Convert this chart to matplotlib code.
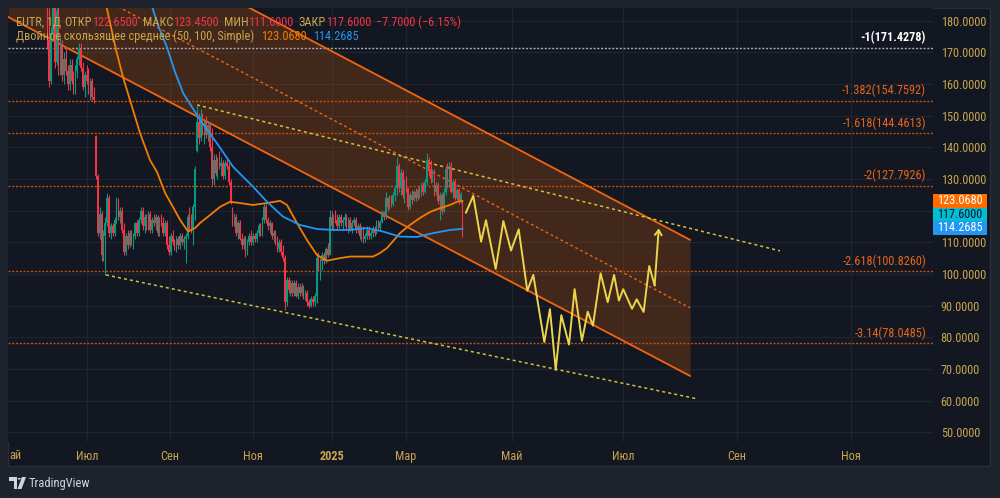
import numpy as np
import matplotlib

matplotlib.use("Agg")
import matplotlib.pyplot as plt
from matplotlib import font_manager
from matplotlib.patches import Rectangle, Polygon, Circle

# pick a narrow-ish face if one is installed
_have = {f.name for f in font_manager.fontManager.ttflist}
_face = next((f for f in ["Liberation Sans Narrow", "DejaVu Sans Condensed",
                          "Roboto Condensed", "Roboto", "Liberation Sans"] if f in _have),
             "DejaVu Sans")
plt.rcParams.update({
    "font.family": [_face, "DejaVu Sans"],
    "font.size": 8,
})

# ---- data -------------------------------------------------------------
# daily candles; x = bar index counted from the left edge of the view
bar_start = 21
opens = [189, 174, 161, 176, 186, 167, 183, 165, 172, 163,
         168, 164, 160, 166, 161, 158, 164, 168, 171, 165,
         159, 163, 161, 158, 161, 156, 143.5, 131, 113, 119,
         106, 112, 116, 124, 113, 115, 113, 117, 123, 118,
         120, 114, 107, 112, 109, 113, 110, 112, 116, 113,
         117, 120, 115, 118, 115, 119, 114, 117, 116, 118,
         113, 117, 116, 113, 116, 109, 107, 112, 110, 108,
         111, 109, 112, 110, 111, 112, 118, 115, 114, 121,
         139, 148, 143, 150, 145, 148, 144, 147, 140, 130,
         136, 132, 136, 134, 135, 131, 135, 134, 129, 120,
         116, 118, 113, 116, 111, 109, 111, 107, 110, 112,
         110, 112, 111, 113, 115, 113, 117, 121, 117, 115,
         116, 112, 113, 110, 108, 110, 107, 105, 91, 98,
         95, 97, 94, 97, 93, 96, 94, 96, 93, 94,
         91, 90, 92, 91, 93, 105, 102, 104, 106, 104,
         108, 106, 118, 115, 118, 117, 115, 118, 116, 117,
         118, 115, 117, 114, 116, 117, 114, 115, 112, 114,
         111, 112, 114, 112, 113, 114, 113, 116, 114.5, 116.5,
         119.5, 118, 124, 121, 124, 122, 125, 127, 134, 127,
         132, 125, 129, 127, 121, 125, 123.3, 126, 124, 126.5,
         125, 128, 126, 129, 136, 133, 130, 132, 126, 128,
         123, 125, 120, 126, 133, 128, 134, 126, 129, 124,
         126.5, 123, 122.65]
highs = [196, 184, 178, 190, 188, 185, 185, 175, 174, 170,
         172, 166, 168, 168, 164, 166, 169, 173, 173, 167,
         164, 166, 165, 162, 162, 159, 143.8, 131.5, 121, 120,
         114, 118, 125.7, 125, 116, 116, 118, 124.4, 124, 121,
         121, 116, 113, 114, 114, 114, 113, 116.5, 117, 118,
         121.2, 121, 119, 119, 120, 120, 118, 119, 119, 118.5,
         118, 119, 118, 117, 117, 112, 113, 114, 111, 112,
         112, 113, 113, 112, 113, 119, 121, 119, 122, 134,
         153.4, 151, 152, 151, 149, 150, 148, 148, 146, 138,
         138, 137, 139, 137, 136, 136, 137, 135, 130, 121,
         119.3, 119, 117, 117, 113, 112, 112, 111, 113, 114,
         113, 113, 114, 116, 116, 118, 122.5, 122, 118, 117,
         116.5, 114, 114, 112, 111, 111, 109.2, 106, 99, 99.1,
         98, 98, 98, 98, 97, 97, 97, 96.5, 95, 95,
         92, 93, 93, 94, 106.6, 107, 105, 107, 107, 108.6,
         109.8, 120.2, 120, 119, 120.2, 119, 119, 119, 118, 119.3,
         119, 118, 118, 117, 118, 118, 116, 116, 115, 115,
         113, 115, 115, 114, 115, 115, 117, 117, 117, 120.2,
         120, 126, 124.4, 125, 125, 126, 128, 137, 135, 133,
         132.8, 130, 131, 127.6, 126, 126.5, 126.5, 127, 127, 128,
         129, 129, 130, 138.2, 137, 136, 133, 133, 129, 129,
         126, 125.6, 127, 133.9, 135, 135.5, 135.5, 130, 130, 127,
         127, 126, 123.45]
lows = [171, 159, 160, 174, 165, 166, 163, 163, 161, 160,
        163, 158, 158, 160, 157, 157, 162, 166, 164, 158,
        156, 160, 157, 155, 155, 154, 130, 112, 111, 104,
        104, 99.7, 115, 111.8, 111, 112, 112, 116, 117, 116,
        113, 106, 106, 108, 108.6, 109, 108, 111, 112, 112,
        116, 114, 113, 114, 114, 113, 113, 115, 114, 112,
        112, 115, 112, 112, 108, 106, 106, 109, 107.6, 107,
        108, 108, 109, 108, 103.4, 111, 114, 113, 109, 117,
        138.5, 141, 142, 144, 141, 143, 142, 139, 128, 128,
        131, 130, 133, 131, 130, 130, 133, 128, 122, 115,
        115, 112, 111, 110.7, 108, 108, 105.5, 106, 109, 109,
        109, 110, 110, 112, 112, 112, 116, 116, 114, 113,
        111, 110, 109, 107, 107, 106, 104, 88.6, 90, 94,
        93, 93, 93, 92.8, 92, 93, 93, 92, 91.8, 90,
        89.2, 89.5, 90, 90, 90.8, 101, 98.1, 101.3, 103, 103.5,
        105.5, 106, 113.9, 114, 116, 114, 114.5, 115, 114, 115,
        114, 113, 113.5, 113, 115, 113, 113, 111, 110.5, 109.8,
        110, 111, 111, 111, 111.8, 112, 112.5, 113.9, 114, 116,
        117, 117.5, 120, 120.5, 121.2, 121.5, 123, 125, 126, 125,
        124, 122.4, 126, 120.2, 120.5, 122, 123, 123, 123.3, 124,
        124.5, 125, 125.5, 128, 131, 128.7, 129, 124.7, 125, 122,
        117, 119, 119.5, 125, 127, 127.5, 125.5, 124, 123.3, 123.3,
        122, 122.5, 111.6]
closes = [174, 161, 176, 186, 167, 183, 165, 172, 163, 168,
          164, 160, 166, 161, 158, 164, 168, 171, 165, 159,
          163, 161, 158, 161, 156, 155, 131, 113, 119, 106,
          112, 116, 124, 113, 115, 113, 117, 123, 118, 120,
          114, 107, 112, 109, 113, 110, 112, 116, 113, 117,
          120, 115, 118, 115, 119, 114, 117, 116, 118, 113,
          117, 116, 113, 116, 109, 107, 112, 110, 108, 111,
          109, 112, 110, 111, 112, 118, 115, 114, 121, 133,
          148, 143, 150, 145, 148, 144, 147, 140, 130, 136,
          132, 136, 134, 135, 131, 135, 134, 129, 123, 116,
          118, 113, 116, 111, 109, 111, 107, 110, 112, 110,
          112, 111, 113, 115, 113, 117, 121, 117, 115, 116,
          112, 113, 110, 108, 110, 107, 105, 91, 98, 95,
          97, 94, 97, 93, 96, 94, 96, 93, 94, 91,
          90, 92, 91, 93, 105, 102, 104, 106, 104, 108,
          106, 118, 115, 118, 117, 115, 118, 116, 117, 118,
          115, 117, 114, 116, 117, 114, 115, 112, 114, 111,
          112, 114, 112, 113, 114, 113, 116, 114.5, 116.5, 119.5,
          118, 124, 121, 124, 122, 125, 127, 134, 127, 132,
          125, 129, 127, 121, 125, 123.3, 126, 124, 126.5, 125,
          128, 126, 129, 136, 133, 130, 132, 126, 128, 123,
          125, 120, 126, 133, 128, 134, 126, 129, 124, 126.5,
          123, 125.3, 117.6]

# simple moving averages 50 / 100 (sampled along the curve)
ma50_x = [51.9, 57.8, 61.5, 65.2, 70.6, 75.9, 79.7, 84.0, 88.2, 92.0,
          96.3, 100.0, 102.7, 108.0, 113.4, 118.7, 124.1, 131.0, 138.5, 145.5,
          149.2, 154.5, 159.9, 165.2, 170.6, 177.5, 182.9, 189.3, 195.2, 198.9,
          202.7, 209.6, 215.0, 220.3, 225.7, 231.0, 236.4, 240.1, 243.0]
ma50_y = [186.5, 170.7, 162.2, 155.0, 144.5, 136.0, 132.2, 125.6, 121.2, 117.1,
          113.4, 114.5, 116.1, 118.6, 121.2, 122.8, 122.4, 121.8, 122.4, 123.1,
          121.8, 116.1, 110.7, 106.0, 104.2, 105.0, 105.5, 105.5, 105.5, 106.6,
          108.2, 112.9, 115.5, 117.7, 119.6, 120.8, 121.8, 122.8, 123.068]
ma100_x = [75.9, 80.2, 84.9, 89.3, 93.7, 102.7, 111.6, 120.3, 131.0, 138.5,
           147.1, 156.1, 165.2, 173.8, 182.9, 192.0, 200.5, 209.6, 218.7, 227.3,
           236.4, 243.0]
ma100_y = [186.5, 178.6, 171.8, 163.8, 157.1, 148.7, 141.4, 133.9, 127.6, 122.8,
           118.1, 115.5, 114.2, 113.9, 113.9, 114.5, 113.4, 111.8, 111.7, 112.9,
           113.9, 114.2685]

# parallel channel (lower / upper edge at its two ends)
chan_x = [0, 364.7]
chan_lo = [181.2, 67.8]
chan_hi = [224.2, 110.8]

# yellow dotted trend lines
trend_hi_x = [101.1, 412.8]
trend_hi_y = [153.4, 107.3]
trend_lo_x = [52.4, 369.0]
trend_lo_y = [99.7, 60.5]

# projected path
proj_x = [244.9, 248.8, 253.0, 255.6, 260.8, 264.9, 269.0, 273.1, 277.7, 280.9,
          286.8, 289.8, 292.9, 295.9, 300.0, 303.0, 306.9, 310.0, 312.8, 316.9,
          320.7, 324.1, 326.7, 329.0, 333.7, 336.2, 339.9, 342.9, 345.8, 348.0]
proj_y = [119.4, 124.7, 110.2, 117.0, 101.6, 116.7, 107.4, 114.1, 94.7, 99.7,
          78.5, 88.9, 69.7, 87.0, 77.7, 95.2, 78.9, 88.1, 83.7, 100.2,
          91.1, 99.7, 91.6, 95.2, 89.0, 92.0, 88.0, 102.5, 96.4, 114.4]

# fibonacci extension levels
fib_ratio = ["-1", "-1.382", "-1.618", "-2", "-2.618", "-3.14"]
fib_value = [171.4278, 154.7592, 144.4613, 127.7926, 100.8260, 78.0485]

month_pos = [42.2, 86.6, 131.0, 173.3, 212.8, 269.5, 328.9, 389.8, 450.8]
month_lbl = ["Июл", "Сен", "Ноя", "2025", "Мар", "Май", "Июл", "Сен", "Ноя"]
price_ticks = list(range(50, 181, 10))

last_ma50, last_close, last_ma100 = 123.0680, 117.6000, 114.2685

# ---- style ------------------------------------------------------------
BG = "#131722"
FRAME = "#1e222d"
GRID = "#1f2431"
GOLD = "#c9a54e"
RED = "#f23645"
GREEN = "#089981"
CH_LINE = "#f0650e"
FIB = "#c4520f"
FIB_TXT = "#e8651a"
YDOT = "#cfc23c"
ZIG = "#ecd54a"
MA_OR = "#f57c00"
MA_BL = "#2196f3"
FS = 8.8

W, H = 1000, 498


def fx(x):
    return x / W


def fy(y):
    return 1 - y / H


fig = plt.figure(figsize=(W / 100, H / 100), dpi=100, facecolor=FRAME)
fig.patches.append(Rectangle((fx(8), fy(466)), fx(990) - fx(8), fy(8) - fy(466),
                             transform=fig.transFigure, facecolor=BG,
                             edgecolor="#2a2e39", lw=1, zorder=-10))

ax = fig.add_axes([fx(8), fy(442), fx(933) - fx(8), fy(8) - fy(442)])
ax.set_facecolor(BG)
ax.set_xlim(0, 494.65)
ax.set_ylim(46.93, 184.01)
for s in ax.spines.values():
    s.set_visible(False)

# the 120 label sits under the last-price badge, so it is left blank
ax.set_yticks(price_ticks, ["" if v == 120 else f"{v:.4f}" for v in price_ticks])
ax.yaxis.tick_right()
ax.tick_params(axis="y", length=0, pad=5.5, labelcolor=GOLD, labelsize=FS)
ax.set_xticks(month_pos, month_lbl)
ax.tick_params(axis="x", length=0, pad=6, labelcolor=GOLD, labelsize=FS)
for t in ax.get_xticklabels():
    if t.get_text() == "2025":
        t.set_fontweight("bold")
ax.grid(True, color=GRID, lw=0.9)
ax.set_axisbelow(True)

# channel
cx = np.array(chan_x)
lo = np.array(chan_lo)
hi = np.array(chan_hi)
ax.fill_between(cx, lo, hi, color="#ff6d00", alpha=0.2, lw=0, zorder=1)
ax.plot(cx, lo, color=CH_LINE, lw=1.3, zorder=3)
ax.plot(cx, hi, color=CH_LINE, lw=1.3, zorder=3)
ax.plot(cx, (lo + hi) / 2, color=CH_LINE, lw=1, ls=(0, (2, 2)), zorder=3)

# fib levels
for i, (r, v) in enumerate(zip(fib_ratio, fib_value)):
    first = i == 0
    ax.axhline(v, color="#a9acb5" if first else FIB, lw=1,
               ls=(0, (1.5, 1.2)), zorder=2)
    ax.annotate(f"{r}({v:.4f})", xy=(1, v), xycoords=("axes fraction", "data"),
                xytext=(-5, 2.5), textcoords="offset points", ha="right",
                va="bottom", fontsize=FS, color="white" if first else FIB_TXT,
                fontweight="bold" if first else "normal", zorder=7)

# trend lines
ax.plot(trend_hi_x, trend_hi_y, color=YDOT, lw=1.1, ls=(0, (2, 2)), zorder=3)
ax.plot(trend_lo_x, trend_lo_y, color=YDOT, lw=1.1, ls=(0, (2, 2)), zorder=3)

# candles
idx = np.arange(bar_start, bar_start + len(opens))
o, h, l, c = (np.array(a, dtype=float) for a in (opens, highs, lows, closes))
col = np.where(c >= o, GREEN, RED)
ax.vlines(idx, l, h, colors=col, lw=0.8, zorder=4)
ax.bar(idx, np.maximum(np.abs(c - o), 0.3), bottom=np.minimum(o, c),
       width=0.8, color=col, lw=0, zorder=4)

# moving averages
ax.plot(ma50_x, ma50_y, color=MA_OR, lw=1.3, zorder=5)
ax.plot(ma100_x, ma100_y, color=MA_BL, lw=1.3, zorder=5)

# projection
ax.plot(proj_x[:-1], proj_y[:-1], color=ZIG, lw=1.4, zorder=6)
ax.annotate("", xy=(proj_x[-1], proj_y[-1]), xytext=(proj_x[-2], proj_y[-2]),
            arrowprops=dict(arrowstyle="->,head_length=0.45,head_width=0.3",
                            color=ZIG, lw=1.4, shrinkA=0, shrinkB=0), zorder=6)

# partial first month label at the left edge
fig.text(fx(9.5), fy(455), "ай", color=GOLD, fontsize=FS, ha="left", va="center")


# price badges on the scale, stacked under the MA50 badge
def fig_y(price):
    return fig.transFigure.inverted().transform(ax.transData.transform((0, price)))[1]


bh = 13.5 / H
y_or = fig_y(last_ma50)
y_cy = y_or - bh
y_bl = y_cy - bh
for yc, val, fc, tc in [(y_or, last_ma50, "#ff6d00", "white"),
                        (y_cy, last_close, "#00bcd4", "#131722"),
                        (y_bl, last_ma100, "#2196f3", "white")]:
    fig.patches.append(Rectangle((fx(933), yc - bh / 2), fx(54), bh,
                                 transform=fig.transFigure, facecolor=fc,
                                 edgecolor="none", zorder=5))
    fig.text(fx(960), yc, f"{val:.4f}", color=tc, fontsize=FS, ha="center",
             va="center", zorder=6)

# legend (top left): pieces laid out one after another
renderer = fig.canvas.get_renderer()


def chain(pieces, y, x0=15.7):
    x = x0
    for txt, cl, gap in pieces:
        t = fig.text(fx(x), fy(y), txt, color=cl, fontsize=FS, ha="left", va="center")
        x += t.get_window_extent(renderer).width + gap


chain([("EUTR, 1Д", GOLD, 4), ("ОТКР", GOLD, 0), ("122.6500", RED, 5),
       ("МАКС", GOLD, 0), ("123.4500", RED, 5), ("МИН", GOLD, 0),
       ("111.6000", RED, 5), ("ЗАКР", GOLD, 0), ("117.6000", RED, 5),
       ("−7.7000 (−6.15%)", RED, 0)], 22)
chain([("Двойное скользящее среднее (50, 100, Simple)", GOLD, 7),
       ("123.0680", MA_OR, 7), ("114.2685", MA_BL, 0)], 36.5)

# TradingView logo
logo = "#d1d4dc"
fig.patches.append(Polygon([(fx(9), fy(477)), (fx(17), fy(477)), (fx(17), fy(489)),
                            (fx(13.5), fy(489)), (fx(13.5), fy(480.5)), (fx(9), fy(480.5))],
                           closed=True, transform=fig.transFigure, facecolor=logo,
                           edgecolor="none"))
fig.patches.append(Circle((fx(19.3), fy(478.8)), 1.6 / W, transform=fig.transFigure,
                          facecolor=logo, edgecolor="none"))
fig.patches.append(Polygon([(fx(22), fy(477)), (fx(26), fy(477)), (fx(21.5), fy(489)),
                            (fx(17.5), fy(489))], closed=True,
                           transform=fig.transFigure, facecolor=logo, edgecolor="none"))
fig.text(fx(28.5), fy(483), "TradingView", color=logo, fontsize=9,
         ha="left", va="center")

fig.savefig("out.png", dpi=100, facecolor=FRAME)
